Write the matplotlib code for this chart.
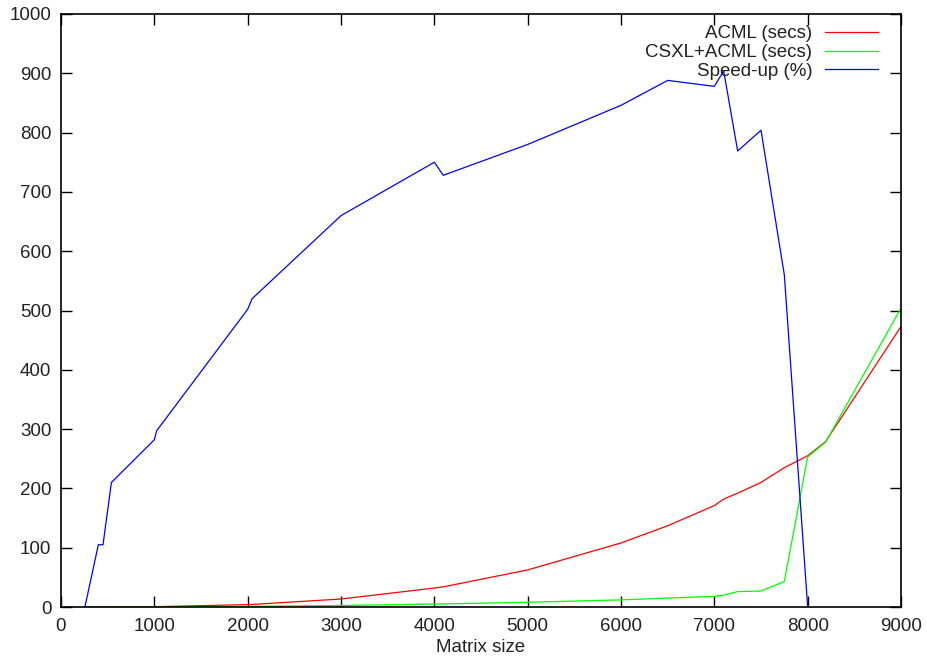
import matplotlib.pyplot as plt

plt.rcParams['font.family'] = ['Liberation Sans', 'DejaVu Sans']

# matrix sizes and timings
size = [256, 400, 450, 540, 1000, 1024, 2000, 2048, 3000, 4000, 4096,
        5000, 6000, 6500, 7000, 7100, 7250, 7500, 7750, 8000, 8192, 9000]
acml = [0.1, 0.2, 0.3, 0.4, 0.5, 0.6, 4, 4.3, 13.5, 32, 34,
        62.5, 108, 137, 171, 182, 192, 210, 235, 255, 279, 473]
csxl = [0.1, 0.1, 0.1, 0.1, 0.2, 0.2, 1, 1.1, 2.5, 5, 5.2,
        8, 12, 15, 18, 20, 26, 27, 43, 253, 278, 504]

speed_size = [256, 400, 450, 540, 1000, 1024, 2000, 2048, 3000, 4000, 4096,
              5000, 6000, 6500, 7000, 7100, 7250, 7500, 7750, 8000]
speedup = [0, 105, 105, 210, 282, 297, 502, 520, 660, 750, 728,
           780, 846, 888, 878, 904, 769, 804, 560, 0]

fs = 13.5
fig = plt.figure(figsize=(9.28, 6.68), dpi=100)
ax = fig.add_axes([61 / 928, 1 - 607 / 668, 840 / 928, 593 / 668])

ax.plot(size, acml, color='#ff0000', lw=0.9, label='ACML (secs)')
ax.plot(size, csxl, color='#00ff00', lw=0.9, label='CSXL+ACML (secs)')
ax.plot(speed_size, speedup, color='#0000ff', lw=0.9, label='Speed-up (%)')

ax.set_xlim(0, 9000)
ax.set_ylim(0, 1000)
ax.set_xticks(range(0, 9001, 1000))
ax.set_yticks(range(0, 1001, 100))
ax.tick_params(direction='in', length=8, width=1, top=True, right=True,
               labelsize=fs, labelcolor='#222222')
ax.tick_params(axis='x', pad=8)
ax.tick_params(axis='y', pad=7)
for s in ax.spines.values():
    s.set_linewidth(1.2)
ax.set_xlabel('Matrix size', fontsize=fs, color='#222222', labelpad=3)

leg = ax.legend(loc='upper right', bbox_to_anchor=(0.9726, 0.981),
                markerfirst=False, frameon=False, fontsize=fs,
                handlelength=2.8, handletextpad=0.7, labelspacing=0.09,
                borderpad=0, borderaxespad=0)
for t in leg.get_texts():
    t.set_color('#222222')

fig.savefig('out.png', dpi=100)
